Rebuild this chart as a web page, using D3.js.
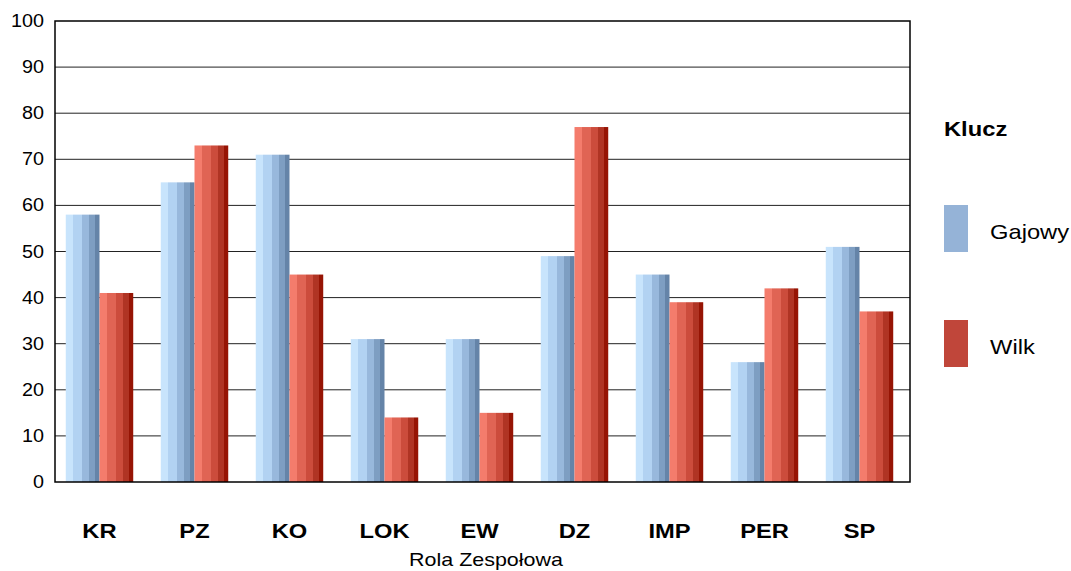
<!DOCTYPE html>
<html>
<head>
<meta charset="utf-8">
<script src="https://cdn.jsdelivr.net/npm/d3@7"></script>
<style>
  html, body { margin: 0; padding: 0; background: #fff; }
  svg { display: block; font-family: "Liberation Sans", Arial, sans-serif; }
</style>
</head>
<body>
<svg id="chart" width="1071" height="571"></svg>
<script>
// Team role scores for two groups
const categories = ["KR", "PZ", "KO", "LOK", "EW", "DZ", "IMP", "PER", "SP"];
const gajowy = [58, 65, 71, 31, 31, 49, 45, 26, 51];
const wilk = [41, 73, 45, 14, 15, 77, 39, 42, 37];
const seriesNames = ["Gajowy", "Wilk"];
const yTicks = [0, 10, 20, 30, 40, 50, 60, 70, 80, 90, 100];

const svg = d3.select("#chart");
const plot = { left: 55, right: 910, top: 21, bottom: 482 };
const SX = 1.13; // horizontal widening applied to all text

const x = d3.scaleBand().domain(categories).range([plot.left - 3, plot.right - 3]).padding(0);
const y = d3.scaleLinear().domain([0, 100]).range([plot.bottom, plot.top]);

// Places a text at (px, py) with the shared horizontal widening
function placed(sel, px, py) {
  return sel.attr("x", 0).attr("y", 0)
    .attr("transform", (d, i) => {
      const X = typeof px === "function" ? px(d, i) : px;
      const Y = typeof py === "function" ? py(d, i) : py;
      return `translate(${X},${Y}) scale(${SX},1)`;
    });
}

// Striped gradients that give bars a cylindrical look
const defs = svg.append("defs");
const stripes = {
  Gajowy: ["#c8e4fc", "#b2d2f2", "#98b8dc", "#7e9ec2", "#6584a8"],
  Wilk: ["#f47c6c", "#e06454", "#cc4c3c", "#b03424", "#961404"]
};
const stops = [0, 0.22, 0.48, 0.7, 0.88, 1];
Object.entries(stripes).forEach(([name, cols]) => {
  const g = defs.append("linearGradient").attr("id", "grad-" + name)
    .attr("x1", "0").attr("x2", "1").attr("y1", "0").attr("y2", "0");
  cols.forEach((c, i) => {
    g.append("stop").attr("offset", stops[i]).attr("stop-color", c);
    g.append("stop").attr("offset", stops[i + 1]).attr("stop-color", c);
  });
});

// Gridlines
svg.append("g").selectAll("line").data(yTicks.filter(t => t > 0 && t < 100)).join("line")
  .attr("x1", plot.left).attr("x2", plot.right)
  .attr("y1", d => y(d)).attr("y2", d => y(d))
  .attr("stroke", "#222").attr("stroke-width", 1);

// Bars
const barW = x.bandwidth() * 0.355;
const rows = categories.map((c, i) => ({ c, vals: [gajowy[i], wilk[i]] }));
const groups = svg.append("g").selectAll("g").data(rows).join("g")
  .attr("transform", d => `translate(${x(d.c) + x.bandwidth() / 2},0)`);
groups.selectAll("rect").data(d => d.vals.map((v, k) => ({ v, k }))).join("rect")
  .attr("x", d => d.k === 0 ? -barW : 0)
  .attr("width", barW)
  .attr("y", d => y(d.v))
  .attr("height", d => y(0) - y(d.v))
  .attr("fill", d => `url(#grad-${seriesNames[d.k]})`);

// Frame
svg.append("rect").attr("x", plot.left).attr("y", plot.top)
  .attr("width", plot.right - plot.left).attr("height", plot.bottom - plot.top)
  .attr("fill", "none").attr("stroke", "#000").attr("stroke-width", 1.5);

// Y axis labels
placed(svg.append("g").selectAll("text").data(yTicks).join("text"),
  plot.left - 11, d => y(d) + 6)
  .attr("text-anchor", "end").attr("font-size", 17.5).attr("fill", "#000")
  .text(d => d);

// X axis labels
placed(svg.append("g").selectAll("text").data(categories).join("text"),
  d => x(d) + x.bandwidth() / 2, 538)
  .attr("text-anchor", "middle").attr("font-size", 21).attr("font-weight", "bold")
  .attr("fill", "#000").text(d => d);

placed(svg.append("text"), 486, 566).attr("text-anchor", "middle")
  .attr("font-size", 19).text("Rola Zespołowa");

// Legend
placed(svg.append("text"), 944, 136).attr("font-size", 21)
  .attr("font-weight", "bold").text("Klucz");
const legendColors = ["#95b3d7", "#c0463a"];
const lg = svg.append("g").selectAll("g").data(seriesNames).join("g")
  .attr("transform", (d, i) => `translate(944,${205 + i * 115})`);
lg.append("rect").attr("width", 24).attr("height", 47).attr("fill", (d, i) => legendColors[i]);
placed(lg.append("text"), 46, 34).attr("font-size", 21).text(d => d);
</script>
</body>
</html>
